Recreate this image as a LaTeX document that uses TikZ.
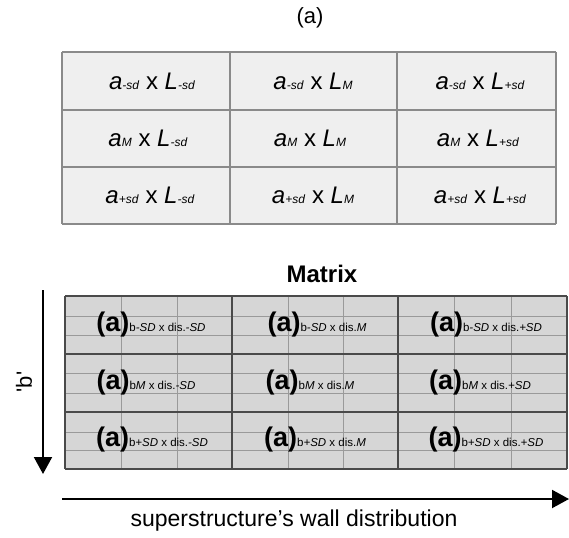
\documentclass[tikz,border=0pt]{standalone}
\usepackage{fontspec}
\setmainfont{Liberation Sans}
\usetikzlibrary{arrows.meta}

\definecolor{cellfill}{HTML}{EFEFEF}
\definecolor{matfill}{HTML}{D6D6D6}
\definecolor{topline}{HTML}{8A8A8A}
\definecolor{matline}{HTML}{4A4A4A}
\definecolor{minorline}{HTML}{9A9A9A}

\newcommand{\fs}[1]{\fontsize{#1}{#1}\selectfont}
\newcommand{\topcell}[2]{\textit{a}{\fs{12}\textit{#1}} x \textit{L}{\fs{12}\textit{#2}}}
\newcommand{\matcell}[2]{{\fs{27}\bfseries (a)}{\fs{11.5}#1 x dis.\textit{#2}}}

\begin{document}
\begin{tikzpicture}[x=1pt,y=-1pt,
		toptext/.style={font=\fs{24}},
		arrowline/.style={line width=2pt,-{Triangle[width=18pt,length=17pt]}}]
		\useasboundingbox (0,0) rectangle (569,537);
		
		\node[font=\fs{22}] (title) at (310,18) {(a)};
		
		% upper table
		\fill[cellfill] (62,52) rectangle (556,224);
		\foreach \y in {52,110,167,224}
			\draw[line width=1.6pt,topline] (62,\y) -- (556,\y);
		\foreach \x in {62,230,397,556}
			\draw[line width=1.6pt,topline] (\x,52) -- (\x,224);
		
		\node[toptext] (t11) at (152,81) {\topcell{-sd}{-sd}};
		\node[toptext] (t12) at (313,81) {\topcell{-sd}{M}};
		\node[toptext] (t13) at (480,81) {\topcell{-sd}{+sd}};
		\node[toptext] (t21) at (148,138) {\topcell{M}{-sd}};
		\node[toptext] (t22) at (310,138) {\topcell{M}{M}};
		\node[toptext] (t23) at (478,138) {\topcell{M}{+sd}};
		\node[toptext] (t31) at (150,195) {\topcell{+sd}{-sd}};
		\node[toptext] (t32) at (313,195) {\topcell{+sd}{M}};
		\node[toptext] (t33) at (480,195) {\topcell{+sd}{+sd}};
		
		% matrix
		\node[font=\fs{24}\bfseries] (matrix) at (322,274) {Matrix};
		\fill[matfill] (65,296) rectangle (567,469);
		\foreach \x in {121,177,288,343,454,511}
			\draw[line width=0.7pt,minorline] (\x,296) -- (\x,469);
		\foreach \y in {316,335,373,393,432,450}
			\draw[line width=0.7pt,minorline] (65,\y) -- (567,\y);
		\foreach \y in {296,354,412,469}
			\draw[line width=1.5pt,matline] (65,\y) -- (567,\y);
		\foreach \x in {65,232,398,567}
			\draw[line width=1.5pt,matline] (\x,296) -- (\x,469);
		
		\node (m11) at (151,325) {\matcell{b\textit{-SD}}{-SD}};
		\node (m12) at (317,325) {\matcell{b\textit{-SD}}{M}};
		\node (m13) at (486,325) {\matcell{b\textit{-SD}}{+SD}};
		\node (m21) at (146,383) {\matcell{b\textit{M}}{-SD}};
		\node (m22) at (310,383) {\matcell{b\textit{M}}{M}};
		\node (m23) at (480,383) {\matcell{b\textit{M}}{+SD}};
		\node (m31) at (152,440) {\matcell{b\textit{+SD}}{-SD}};
		\node (m32) at (315,440) {\matcell{b\textit{+SD}}{M}};
		\node (m33) at (486,440) {\matcell{b\textit{+SD}}{+SD}};
		
		% axes
		\coordinate (btop) at (43,290);
		\coordinate (bbot) at (43,474);
		\draw[arrowline] (btop) -- (bbot);
		\node[rotate=90,font=\fs{22}] (blabel) at (24,382) {\textquotesingle b\textquotesingle};
		
		\coordinate (wleft) at (62,499);
		\coordinate (wright) at (569,499);
		\draw[arrowline] (wleft) -- (wright);
		\node[font=\fs{23}] (wlabel) at (294,521) {superstructure’s wall distribution};
	\end{tikzpicture}
\end{document}
